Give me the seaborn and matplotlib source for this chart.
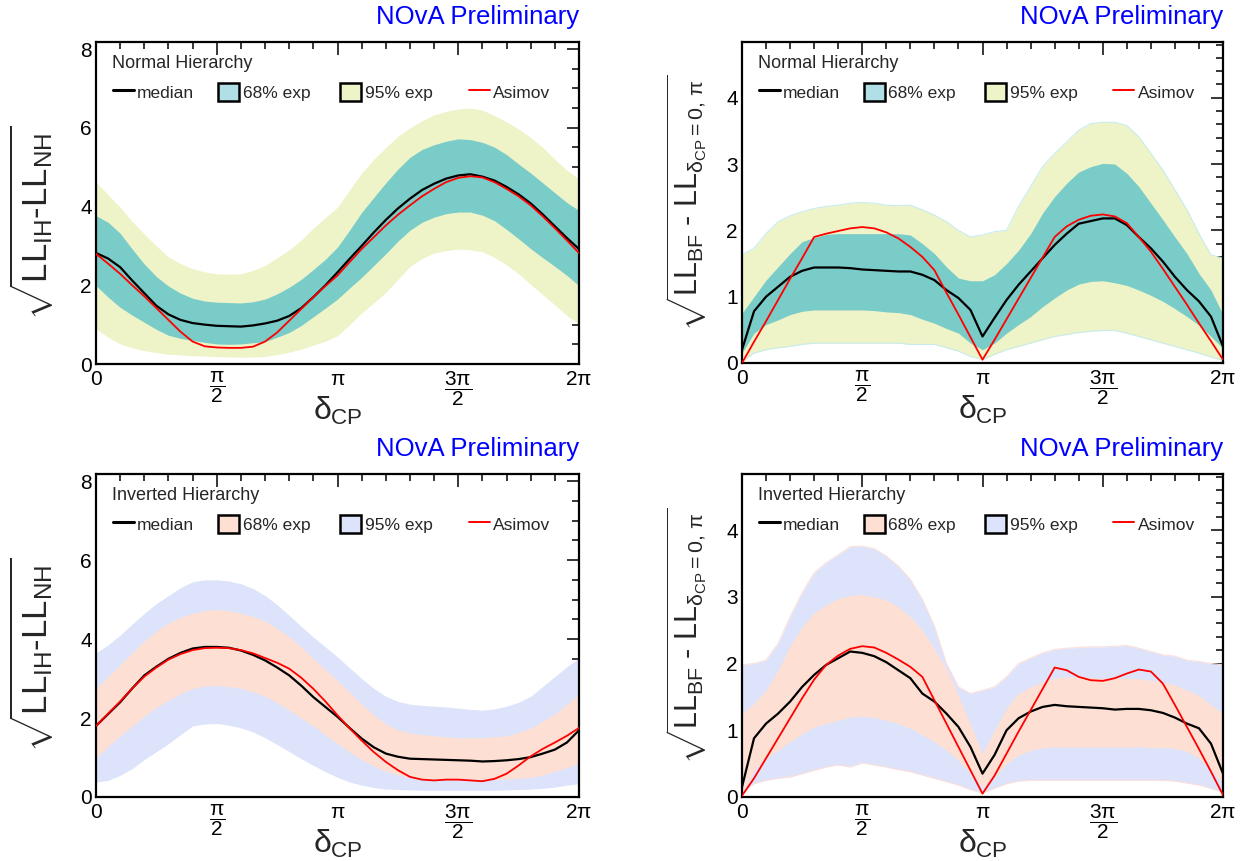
import numpy as np
import matplotlib
matplotlib.use("Agg")
import matplotlib.pyplot as plt
import seaborn as sns
from matplotlib.lines import Line2D
from matplotlib.patches import Patch
from matplotlib.legend import Legend
from matplotlib.ticker import MultipleLocator

# ---------------------------------------------------------------------------
# Sensitivity curves vs delta_CP (x in units of pi)
# ---------------------------------------------------------------------------
delta_pi = [0.0, 0.05, 0.1, 0.15, 0.2, 0.25, 0.3, 0.35, 0.4, 0.45, 0.5,
            0.55, 0.6, 0.65, 0.7, 0.75, 0.8, 0.85, 0.9, 0.95, 1.0,
            1.05, 1.1, 1.15, 1.2, 1.25, 1.3, 1.35, 1.4, 1.45, 1.5,
            1.55, 1.6, 1.65, 1.7, 1.75, 1.8, 1.85, 1.9, 1.95, 2.0]

# Hierarchy discrimination, true normal hierarchy
nh_hier_median = [2.82, 2.68, 2.46, 2.12, 1.80, 1.48, 1.26, 1.12, 1.04, 1.00, 0.97,
                  0.96, 0.95, 0.98, 1.03, 1.10, 1.22, 1.42, 1.70, 2.00, 2.33,
                  2.67, 3.00, 3.34, 3.66, 3.95, 4.20, 4.42, 4.58, 4.71, 4.79,
                  4.82, 4.76, 4.66, 4.50, 4.31, 4.08, 3.80, 3.50, 3.20, 2.92]
nh_hier_asimov = [2.80, 2.55, 2.29, 2.00, 1.72, 1.42, 1.12, 0.82, 0.57, 0.45, 0.42,
                  0.41, 0.41, 0.44, 0.57, 0.80, 1.10, 1.40, 1.70, 1.98, 2.25,
                  2.59, 2.92, 3.22, 3.52, 3.79, 4.03, 4.26, 4.45, 4.62, 4.73,
                  4.77, 4.74, 4.62, 4.45, 4.26, 4.03, 3.75, 3.45, 3.14, 2.82]
nh_hier_68_hi = [3.77, 3.60, 3.32, 2.92, 2.54, 2.22, 1.98, 1.80, 1.67, 1.60, 1.57,
                 1.56, 1.55, 1.58, 1.65, 1.78, 1.95, 2.15, 2.40, 2.66, 2.97,
                 3.40, 3.85, 4.23, 4.60, 4.95, 5.25, 5.45, 5.57, 5.66, 5.72,
                 5.70, 5.63, 5.51, 5.32, 5.08, 4.85, 4.60, 4.35, 4.10, 3.90]
nh_hier_68_lo = [1.99, 1.70, 1.44, 1.24, 1.06, 0.88, 0.73, 0.65, 0.60, 0.55, 0.51,
                 0.50, 0.51, 0.54, 0.57, 0.68, 0.80, 0.98, 1.20, 1.42, 1.65,
                 1.93, 2.20, 2.50, 2.80, 3.12, 3.40, 3.60, 3.73, 3.82, 3.86,
                 3.86, 3.78, 3.64, 3.42, 3.18, 2.93, 2.70, 2.48, 2.25, 1.99]
nh_hier_95_hi = [4.62, 4.30, 3.98, 3.62, 3.30, 3.00, 2.72, 2.55, 2.42, 2.34, 2.29,
                 2.28, 2.29, 2.38, 2.50, 2.70, 2.90, 3.15, 3.45, 3.72, 3.98,
                 4.42, 4.85, 5.20, 5.50, 5.78, 6.00, 6.18, 6.33, 6.42, 6.48,
                 6.50, 6.45, 6.31, 6.15, 5.97, 5.75, 5.50, 5.20, 4.92, 4.70]
nh_hier_95_lo = [0.89, 0.68, 0.51, 0.41, 0.34, 0.29, 0.25, 0.23, 0.21, 0.20, 0.19,
                 0.18, 0.17, 0.18, 0.19, 0.24, 0.30, 0.38, 0.48, 0.58, 0.72,
                 1.00, 1.30, 1.55, 1.82, 2.15, 2.48, 2.68, 2.82, 2.88, 2.92,
                 2.90, 2.85, 2.71, 2.52, 2.29, 2.02, 1.76, 1.50, 1.23, 1.02]

# Hierarchy discrimination, true inverted hierarchy
ih_hier_median = [1.80, 2.10, 2.40, 2.75, 3.08, 3.30, 3.50, 3.65, 3.76, 3.80, 3.80,
                  3.78, 3.71, 3.60, 3.46, 3.28, 3.08, 2.82, 2.53, 2.28, 2.03,
                  1.75, 1.48, 1.26, 1.10, 1.02, 0.97, 0.96, 0.95, 0.94, 0.93,
                  0.92, 0.90, 0.91, 0.93, 0.96, 1.01, 1.10, 1.20, 1.38, 1.69]
ih_hier_asimov = [1.80, 2.11, 2.42, 2.75, 3.05, 3.28, 3.48, 3.62, 3.72, 3.77, 3.78,
                  3.77, 3.72, 3.64, 3.52, 3.40, 3.25, 3.02, 2.74, 2.42, 2.07,
                  1.74, 1.43, 1.14, 0.89, 0.68, 0.51, 0.44, 0.42, 0.44, 0.44,
                  0.42, 0.40, 0.46, 0.59, 0.80, 1.03, 1.22, 1.38, 1.55, 1.75]
ih_hier_68_hi = [2.75, 3.05, 3.35, 3.65, 3.95, 4.20, 4.40, 4.55, 4.65, 4.72, 4.75,
                 4.72, 4.65, 4.57, 4.45, 4.27, 4.05, 3.80, 3.50, 3.22, 2.95,
                 2.65, 2.35, 2.08, 1.85, 1.70, 1.62, 1.58, 1.55, 1.52, 1.50,
                 1.50, 1.50, 1.52, 1.55, 1.63, 1.75, 1.92, 2.10, 2.35, 2.60]
ih_hier_68_lo = [1.00, 1.28, 1.55, 1.80, 2.05, 2.27, 2.45, 2.62, 2.75, 2.81, 2.82,
                 2.80, 2.75, 2.66, 2.55, 2.39, 2.20, 2.00, 1.80, 1.57, 1.35,
                 1.14, 0.95, 0.79, 0.65, 0.56, 0.50, 0.47, 0.45, 0.45, 0.45,
                 0.45, 0.45, 0.45, 0.45, 0.47, 0.50, 0.56, 0.65, 0.75, 0.85]
ih_hier_95_hi = [3.65, 3.85, 4.10, 4.38, 4.65, 4.90, 5.10, 5.30, 5.45, 5.50, 5.50,
                 5.47, 5.40, 5.28, 5.10, 4.87, 4.60, 4.32, 4.05, 3.80, 3.55,
                 3.27, 3.00, 2.75, 2.55, 2.42, 2.35, 2.32, 2.30, 2.28, 2.25,
                 2.22, 2.20, 2.23, 2.30, 2.40, 2.55, 2.80, 3.05, 3.30, 3.52]
ih_hier_95_lo = [0.38, 0.42, 0.55, 0.72, 0.95, 1.15, 1.35, 1.58, 1.80, 1.85, 1.86,
                 1.82, 1.75, 1.65, 1.50, 1.33, 1.15, 0.97, 0.80, 0.64, 0.50,
                 0.38, 0.30, 0.24, 0.20, 0.19, 0.18, 0.17, 0.17, 0.17, 0.17,
                 0.17, 0.17, 0.17, 0.18, 0.19, 0.20, 0.22, 0.25, 0.30, 0.34]

# CP conservation exclusion, true normal hierarchy
nh_cp_median = [0.20, 0.78, 1.00, 1.15, 1.30, 1.39, 1.44, 1.44, 1.44, 1.43, 1.41,
                1.40, 1.39, 1.38, 1.38, 1.33, 1.25, 1.10, 0.98, 0.80, 0.40,
                0.68, 0.95, 1.18, 1.38, 1.58, 1.78, 1.95, 2.10, 2.14, 2.18,
                2.18, 2.08, 1.90, 1.73, 1.53, 1.30, 1.10, 0.93, 0.70, 0.25]
nh_cp_asimov = [0.00, 0.32, 0.63, 0.95, 1.27, 1.58, 1.90, 1.95, 1.99, 2.03, 2.05,
                2.03, 1.97, 1.88, 1.75, 1.60, 1.40, 1.06, 0.73, 0.39, 0.05,
                0.35, 0.66, 0.97, 1.28, 1.59, 1.90, 2.06, 2.16, 2.22, 2.24,
                2.21, 2.11, 1.90, 1.68, 1.42, 1.15, 0.88, 0.60, 0.33, 0.05]
nh_cp_68_hi = [0.75, 1.00, 1.25, 1.45, 1.65, 1.83, 1.89, 1.94, 1.95, 1.95, 1.95,
               1.95, 1.95, 1.95, 1.93, 1.80, 1.65, 1.45, 1.28, 1.24, 1.24,
               1.33, 1.50, 1.70, 1.95, 2.26, 2.51, 2.71, 2.88, 2.96, 3.01,
               3.00, 2.86, 2.66, 2.41, 2.16, 1.90, 1.65, 1.35, 1.10, 0.73]
nh_cp_68_lo = [0.15, 0.45, 0.58, 0.65, 0.73, 0.78, 0.80, 0.80, 0.80, 0.80, 0.80,
               0.79, 0.77, 0.76, 0.73, 0.66, 0.60, 0.52, 0.45, 0.30, 0.20,
               0.30, 0.45, 0.58, 0.70, 0.85, 0.98, 1.10, 1.19, 1.23, 1.24,
               1.21, 1.17, 1.10, 1.02, 0.93, 0.82, 0.70, 0.57, 0.40, 0.22]
nh_cp_95_hi = [1.63, 1.73, 1.95, 2.13, 2.22, 2.28, 2.33, 2.36, 2.38, 2.41, 2.42,
               2.41, 2.38, 2.37, 2.38, 2.31, 2.23, 2.13, 2.00, 1.90, 1.93,
               1.98, 2.00, 2.36, 2.66, 2.96, 3.16, 3.33, 3.51, 3.61, 3.63,
               3.63, 3.58, 3.41, 3.16, 2.91, 2.61, 2.31, 1.95, 1.63, 1.58]
nh_cp_95_lo = [0.02, 0.15, 0.20, 0.23, 0.25, 0.28, 0.30, 0.30, 0.30, 0.30, 0.30,
               0.30, 0.30, 0.30, 0.28, 0.28, 0.28, 0.23, 0.18, 0.10, 0.05,
               0.13, 0.20, 0.25, 0.30, 0.35, 0.40, 0.43, 0.46, 0.48, 0.49,
               0.49, 0.45, 0.40, 0.35, 0.30, 0.25, 0.20, 0.15, 0.09, 0.04]

# CP conservation exclusion, true inverted hierarchy
ih_cp_median = [0.15, 0.88, 1.10, 1.25, 1.43, 1.65, 1.83, 1.98, 2.08, 2.18, 2.16,
                2.11, 2.02, 1.90, 1.78, 1.55, 1.43, 1.25, 1.05, 0.75, 0.35,
                0.63, 1.00, 1.18, 1.28, 1.35, 1.38, 1.36, 1.35, 1.34, 1.33,
                1.31, 1.32, 1.32, 1.30, 1.26, 1.19, 1.10, 1.03, 0.80, 0.35]
ih_cp_asimov = [0.02, 0.28, 0.58, 0.88, 1.18, 1.48, 1.76, 1.98, 2.12, 2.22, 2.26,
                2.24, 2.16, 2.06, 1.95, 1.80, 1.45, 1.10, 0.75, 0.40, 0.05,
                0.32, 0.65, 0.98, 1.30, 1.62, 1.94, 1.90, 1.80, 1.75, 1.74,
                1.78, 1.85, 1.91, 1.88, 1.70, 1.38, 1.05, 0.72, 0.38, 0.03]
ih_cp_68_hi = [1.25, 1.40, 1.60, 1.90, 2.26, 2.55, 2.76, 2.88, 2.97, 3.02, 3.03,
               3.00, 2.95, 2.85, 2.70, 2.50, 2.22, 1.92, 1.52, 1.08, 0.65,
               1.00, 1.33, 1.55, 1.65, 1.73, 1.78, 1.80, 1.80, 1.79, 1.78,
               1.78, 1.78, 1.77, 1.75, 1.72, 1.68, 1.60, 1.52, 1.38, 1.25]
ih_cp_68_lo = [0.05, 0.40, 0.58, 0.70, 0.83, 0.95, 1.05, 1.10, 1.15, 1.20, 1.21,
               1.19, 1.15, 1.10, 1.03, 0.93, 0.83, 0.70, 0.55, 0.35, 0.15,
               0.30, 0.50, 0.63, 0.70, 0.74, 0.75, 0.75, 0.75, 0.75, 0.75,
               0.75, 0.75, 0.75, 0.74, 0.74, 0.73, 0.68, 0.58, 0.40, 0.20]
ih_cp_95_hi = [1.98, 2.00, 2.05, 2.30, 2.70, 3.06, 3.36, 3.51, 3.63, 3.75, 3.76,
               3.72, 3.61, 3.46, 3.26, 2.96, 2.56, 2.00, 1.65, 1.55, 1.60,
               1.65, 1.80, 2.00, 2.08, 2.16, 2.21, 2.23, 2.24, 2.25, 2.25,
               2.26, 2.27, 2.23, 2.18, 2.13, 2.11, 2.05, 2.03, 2.00, 1.98]
ih_cp_95_lo = [0.07, 0.20, 0.25, 0.28, 0.30, 0.35, 0.40, 0.45, 0.48, 0.45, 0.51,
               0.48, 0.45, 0.41, 0.38, 0.33, 0.28, 0.23, 0.18, 0.11, 0.06,
               0.13, 0.20, 0.24, 0.25, 0.25, 0.25, 0.25, 0.25, 0.25, 0.25,
               0.25, 0.25, 0.25, 0.25, 0.25, 0.24, 0.21, 0.18, 0.13, 0.07]

legend_labels = ["median", "68% exp", "95% exp", "Asimov"]
x_tick_labels = ["0", r"$\dfrac{\pi}{2}$", r"$\pi$", r"$\dfrac{3\pi}{2}$", r"$2\pi$"]

# ---------------------------------------------------------------------------
# Style
# ---------------------------------------------------------------------------
sns.set_theme(style="white")
plt.rcParams["font.family"] = ["Liberation Sans", "DejaVu Sans"]
plt.rcParams["mathtext.fontset"] = "custom"
plt.rcParams["mathtext.rm"] = "Liberation Sans"
plt.rcParams["mathtext.it"] = "Liberation Sans"
plt.rcParams["mathtext.sf"] = "Liberation Sans"
plt.rcParams["mathtext.bf"] = "Liberation Sans:bold"

NH_68, NH_95, NH_68_BOX = "#79ccc7", "#eff3c8", "#b0e0e6"
IH_68, IH_95 = "#fde0d3", "#dde3fa"

YLAB_HIER = r"$\sqrt{LL_{IH}\text{-}LL_{NH}}$"
YLAB_CP = r"$\sqrt{LL_{BF}\ \text{-}\ LL_{\delta_{CP}=0,\,\pi}}$"

# horizontal anchor of each legend entry, in axes fraction
LEGEND_X = [0.035, 0.253, 0.506, 0.772]

W, H = 1251, 861
fig = plt.figure(figsize=(W / 100, H / 100), dpi=100)
fig.patch.set_facecolor("white")


def px_axes(left, top, right, bottom):
    return fig.add_axes([left / W, 1 - bottom / H, (right - left) / W, (bottom - top) / H])


def draw_panel(ax, med, asim, lo68, hi68, lo95, hi95, c68, c95, box68,
               edge95, title, ylabel, ylab_size, ymax, ystep, yminor, ylab_xy):
    x = np.asarray(delta_pi) * np.pi
    ax.fill_between(x, lo95, hi95, color=c95, lw=0, zorder=1)
    if edge95 is not None:
        ax.plot(x, lo95, color=edge95, lw=0.8, zorder=1.5)
        ax.plot(x, hi95, color=edge95, lw=0.8, zorder=1.5)
    ax.fill_between(x, lo68, hi68, color=c68, lw=0, zorder=2)
    sns.lineplot(x=x, y=med, ax=ax, color="black", lw=1.6, estimator=None,
                 sort=False, zorder=3)
    sns.lineplot(x=x, y=asim, ax=ax, color="red", lw=1.3, estimator=None,
                 sort=False, zorder=4)

    ax.set_xlim(0, 2 * np.pi)
    ax.set_ylim(0, ymax)
    ax.set_xticks([0, np.pi / 2, np.pi, 3 * np.pi / 2, 2 * np.pi])
    ax.set_xticklabels(x_tick_labels)
    ax.xaxis.set_minor_locator(MultipleLocator(np.pi / 10))
    yt = np.arange(0, ymax, ystep)
    ax.set_yticks(yt)
    ax.set_yticklabels([f"{v:g}" for v in yt])
    ax.yaxis.set_minor_locator(MultipleLocator(yminor))
    ax.tick_params(which="both", direction="in", top=True, right=True,
                   color="black", width=1.1, labelsize=15, labelcolor="black")
    ax.tick_params(which="major", length=9)
    ax.tick_params(which="minor", length=5)
    ax.tick_params(axis="x", pad=4)
    ax.tick_params(axis="y", pad=3)
    for s in ax.spines.values():
        s.set_color("black")
        s.set_linewidth(1.6)
    ax.grid(False)
    ax.set_xlabel("")
    ax.set_ylabel("")

    ax.text(0.5, -0.145, r"$\delta_{CP}$", transform=ax.transAxes, ha="center",
            va="center", fontsize=23)
    ax.text(ylab_xy[0], ylab_xy[1], ylabel, transform=ax.transAxes, rotation=90,
            ha="center", va="center", fontsize=ylab_size)
    ax.text(1.0, 1.078, "NOvA Preliminary", transform=ax.transAxes, ha="right",
            va="center", fontsize=18.5, color="#0000ff")
    ax.text(0.033, 0.932, title, transform=ax.transAxes, ha="left", va="center",
            fontsize=13)

    handles = [Line2D([], [], color="black", lw=2.2),
               Patch(facecolor=box68, edgecolor="black", lw=1.8),
               Patch(facecolor=c95, edgecolor="black", lw=1.8),
               Line2D([], [], color="red", lw=1.4)]
    for h, lab, lx in zip(handles, legend_labels, LEGEND_X):
        leg = Legend(ax, [h], [lab], loc="center left", bbox_to_anchor=(lx, 0.845),
                     bbox_transform=ax.transAxes, frameon=False, fontsize=12.5,
                     handlelength=1.2, handleheight=1.25, handletextpad=0.2,
                     borderpad=0, borderaxespad=0)
        ax.add_artist(leg)


ax_tl = px_axes(96, 42, 579, 364)
ax_tr = px_axes(742, 42, 1223, 363)
ax_bl = px_axes(96, 474, 579, 797)
ax_br = px_axes(742, 474, 1223, 797)

draw_panel(ax_tl, nh_hier_median, nh_hier_asimov, nh_hier_68_lo, nh_hier_68_hi,
           nh_hier_95_lo, nh_hier_95_hi, NH_68, NH_95, NH_68_BOX, None,
           "Normal Hierarchy", YLAB_HIER, 25, 8.18, 2, 0.5, (-0.133, 0.44))
draw_panel(ax_tr, nh_cp_median, nh_cp_asimov, nh_cp_68_lo, nh_cp_68_hi,
           nh_cp_95_lo, nh_cp_95_hi, NH_68, NH_95, NH_68_BOX, "#c8ecec",
           "Normal Hierarchy", YLAB_CP, 22, 4.84, 1, 0.2, (-0.116, 0.50))
draw_panel(ax_bl, ih_hier_median, ih_hier_asimov, ih_hier_68_lo, ih_hier_68_hi,
           ih_hier_95_lo, ih_hier_95_hi, IH_68, IH_95, IH_68, None,
           "Inverted Hierarchy", YLAB_HIER, 25, 8.18, 2, 0.5, (-0.133, 0.44))
draw_panel(ax_br, ih_cp_median, ih_cp_asimov, ih_cp_68_lo, ih_cp_68_hi,
           ih_cp_95_lo, ih_cp_95_hi, IH_68, IH_95, IH_68, "#fbe0dc",
           "Inverted Hierarchy", YLAB_CP, 22, 4.84, 1, 0.2, (-0.116, 0.50))

fig.savefig("out.png", dpi=100, facecolor="white")
